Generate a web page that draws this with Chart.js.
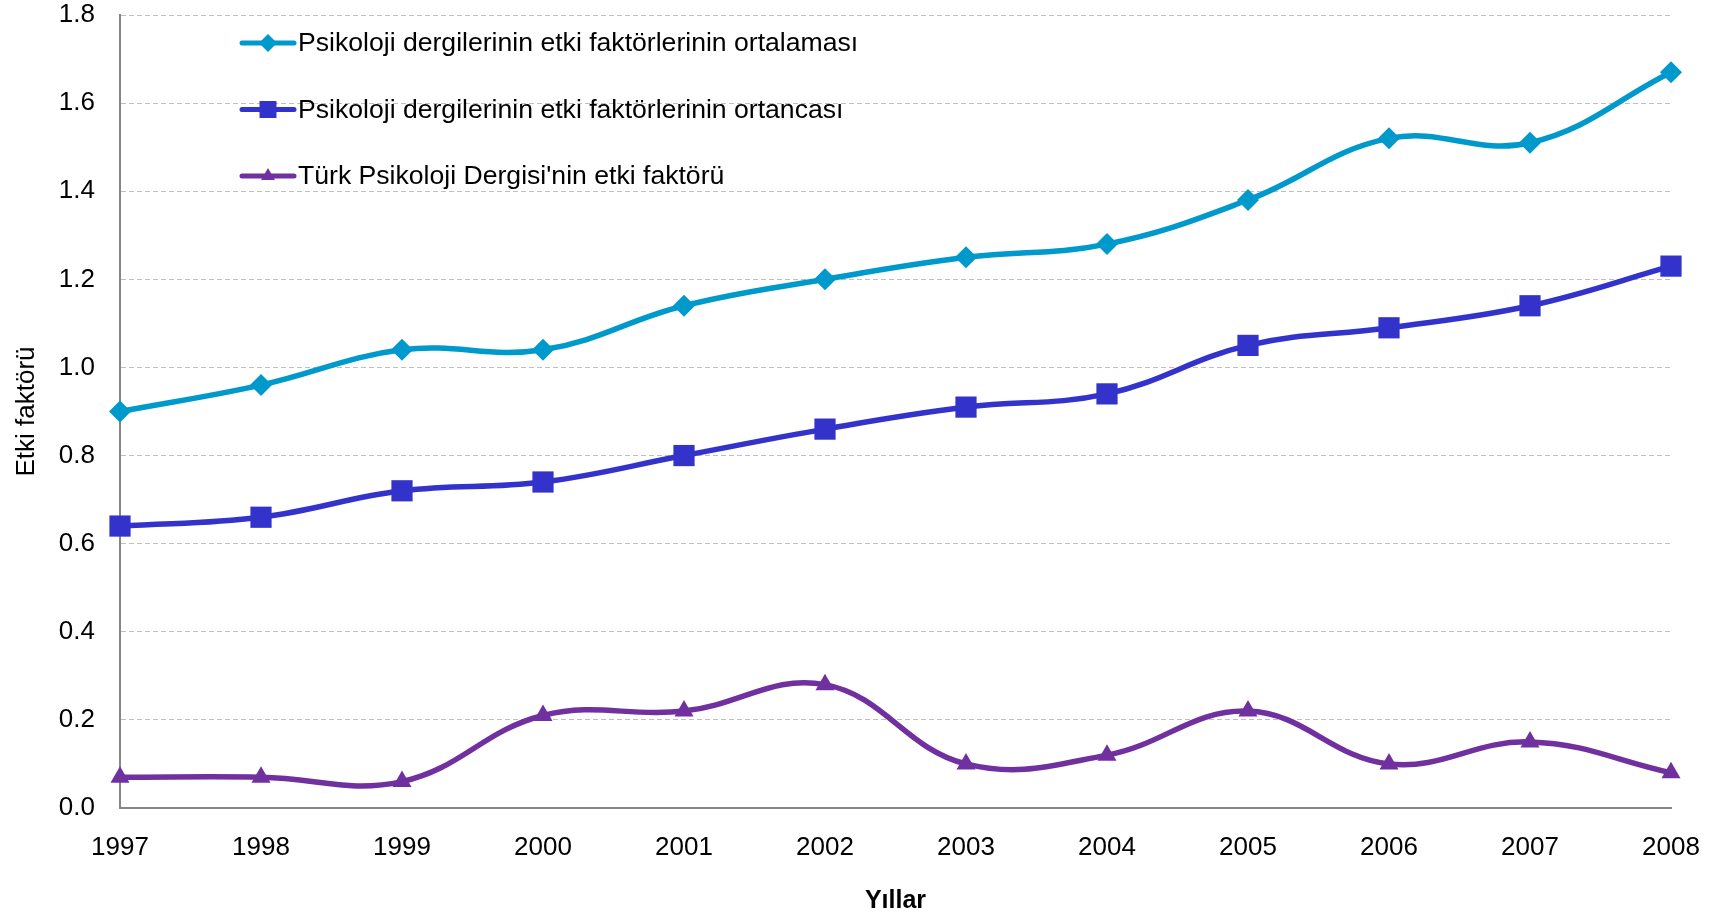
<!DOCTYPE html>
<html>
<head>
<meta charset="utf-8">
<title>Etki faktörü</title>
<script src="https://cdn.jsdelivr.net/npm/chart.js@4.4.1/dist/chart.umd.min.js"></script>
<style>
  html, body { margin: 0; padding: 0; background: #fff; }
  #wrap { width: 1718px; height: 913px; }
</style>
</head>
<body>
<div id="wrap"><canvas id="impact-chart"></canvas></div>
<script>
// data
const years = ['1997', '1998', '1999', '2000', '2001', '2002', '2003', '2004', '2005', '2006', '2007', '2008'];
const meanIF = [0.90, 0.96, 1.04, 1.04, 1.14, 1.20, 1.25, 1.28, 1.38, 1.52, 1.51, 1.67];
const medianIF = [0.64, 0.66, 0.72, 0.74, 0.80, 0.86, 0.91, 0.94, 1.05, 1.09, 1.14, 1.23];
const turkIF = [0.07, 0.07, 0.06, 0.21, 0.22, 0.28, 0.10, 0.12, 0.22, 0.10, 0.15, 0.08];
const seriesNames = [
  'Psikoloji dergilerinin etki faktörlerinin ortalaması',
  'Psikoloji dergilerinin etki faktörlerinin ortancası',
  "Türk Psikoloji Dergisi'nin etki faktörü"
];

const FONT = "'Liberation Sans', Arial, sans-serif";
Chart.defaults.font.family = FONT;
Chart.defaults.color = '#000';

// legend sits inside the plot, line + marker like Excel
function drawMarker(ctx, style, x, y, r) {
  ctx.beginPath();
  if (style === 'rectRot') {
    ctx.moveTo(x, y - r); ctx.lineTo(x + r, y); ctx.lineTo(x, y + r); ctx.lineTo(x - r, y);
  } else if (style === 'rect') {
    const s = r * Math.SQRT1_2;
    ctx.rect(x - s, y - s, 2 * s, 2 * s);
  } else {
    const h = r * 0.866;
    ctx.moveTo(x, y - r); ctx.lineTo(x + h, y + r / 2); ctx.lineTo(x - h, y + r / 2);
  }
  ctx.closePath();
  ctx.fill();
}

const insideLegend = {
  id: 'insideLegend',
  afterDraw(chart) {
    const ctx = chart.ctx;
    const sizes = [9, 12, 8];
    ctx.save();
    chart.data.datasets.forEach((ds, i) => {
      const y = 43 + i * 66.5;
      ctx.strokeStyle = ds.borderColor;
      ctx.fillStyle = ds.borderColor;
      ctx.lineWidth = 5;
      ctx.lineCap = 'round';
      ctx.beginPath();
      ctx.moveTo(242, y);
      ctx.lineTo(294, y);
      ctx.stroke();
      drawMarker(ctx, ds.pointStyle, 268, y, sizes[i]);
      ctx.fillStyle = '#000';
      ctx.font = '26.6px ' + FONT;
      ctx.textBaseline = 'middle';
      ctx.fillText(ds.label, 298, y + 1);
    });
    ctx.restore();
  }
};

const ctx = document.getElementById('impact-chart');
new Chart(ctx.getContext('2d'), {
  type: 'line',
  data: {
    labels: years,
    datasets: [
      {
        label: seriesNames[0],
        data: meanIF,
        borderColor: '#0099CC',
        backgroundColor: '#0099CC',
        pointStyle: 'rectRot',
        pointRadius: 11,
        pointBorderWidth: 0
      },
      {
        label: seriesNames[1],
        data: medianIF,
        borderColor: '#3333CC',
        backgroundColor: '#3333CC',
        pointStyle: 'rect',
        pointRadius: 15,
        pointBorderWidth: 0
      },
      {
        label: seriesNames[2],
        data: turkIF,
        borderColor: '#7030A0',
        backgroundColor: '#7030A0',
        pointStyle: 'triangle',
        pointRadius: 11,
        pointBorderWidth: 0
      }
    ]
  },
  options: {
    responsive: true,
    maintainAspectRatio: false,
    animation: false,
    elements: {
      line: { borderWidth: 5.5, tension: 0.4, fill: false }
    },
    layout: {
      padding: { top: 15, right: 47, bottom: 0, left: 0 }
    },
    plugins: {
      legend: { display: false },
      tooltip: { enabled: false }
    },
    scales: {
      x: {
        offset: false,
        grid: { display: false, drawTicks: false },
        border: { color: '#868686', width: 2 },
        ticks: { font: { size: 26 }, padding: 24, maxRotation: 0 },
        title: {
          display: true,
          text: 'Yıllar',
          font: { size: 25, weight: 'bold' },
          padding: { top: 0, bottom: -3 }
        },
        afterFit(scale) {
          scale.height = 105;
          scale.paddingLeft = 0;
          scale.paddingRight = 0;
        }
      },
      y: {
        min: 0,
        max: 1.8,
        grid: { color: '#BFBFBF', lineWidth: 1, drawTicks: false },
        border: { color: '#868686', width: 2, dash: [5, 3] },
        ticks: {
          stepSize: 0.2,
          padding: 25,
          font: { size: 26 },
          callback: v => v.toFixed(1)
        },
        title: {
          display: true,
          text: 'Etki faktörü',
          font: { size: 26 },
          padding: { top: 11, bottom: 0 }
        },
        afterFit(scale) {
          scale.width = 120;
          scale.paddingTop = 0;
          scale.paddingBottom = 0;
        }
      }
    }
  },
  plugins: [insideLegend]
});
</script>
</body>
</html>
